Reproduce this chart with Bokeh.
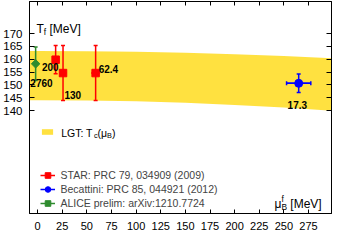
import math
from bokeh.plotting import figure
from bokeh.models import (ColumnDataSource, Whisker, TeeHead, FixedTicker, LinearAxis,
                          Legend, LegendItem, Label)
from bokeh.core.properties import value
from bokeh.embed import file_html
from bokeh.resources import INLINE

# ---------------- data ----------------
x_ticks = [0, 25, 50, 75, 100, 125, 150, 175, 200, 225, 250, 275]
y_ticks = [140, 145, 150, 155, 160, 165, 170]

band_mu = [-8, 0, 50, 100, 150, 200, 250, 300]
band_upper = [163.2, 163.2, 163.1, 162.9, 162.5, 161.9, 161.2, 160.3]
band_lower = [144.0, 144.0, 143.9, 143.6, 143.0, 142.2, 141.2, 139.9]

star_mu = [18.3, 25.8, 58.9]
star_T = [159.8, 154.6, 154.6]
star_Terr = [5.5, 10.7, 10.7]
star_muerr = [3.5, 3.5, 4.5]
star_labels = ["200", "130", "62.4"]

bec_mu = [265.0]
bec_T = [150.6]
bec_Terr = [3.6]
bec_muerr = [12.3]
bec_labels = ["17.3"]

alice_mu = [-2.0]
alice_T = [158.2]
alice_Terr = [6.5]
alice_muerr = [0.0]
alice_labels = ["2760"]

# label offsets in screen pixels (dx right, dy down) from each point
star_label_off = [(-13.7, 6.8), (1.4, 21.5), (3.0, -4.2)]
bec_label_off = [(-11.1, 21.2)]
alice_label_off = [(-5.3, 19.4)]

FONT = "Liberation Sans"

p = figure(width=335, height=232, x_range=(-8.23, 298.3), y_range=(99.9, 182.47),
           output_backend="svg", toolbar_location=None,
           min_border_left=22, min_border_right=4, min_border_top=1, min_border_bottom=19)
p.xgrid.visible = False
p.ygrid.visible = False
p.outline_line_color = "black"
p.background_fill_color = "white"
p.border_fill_color = "white"

# axes
for ax in p.xaxis:
    ax.ticker = FixedTicker(ticks=x_ticks)
    ax.major_tick_in = 4
    ax.major_tick_out = 0
    ax.minor_tick_in = 0
    ax.minor_tick_out = 0
    ax.major_label_text_font = FONT
    ax.major_label_text_font_size = "11px"
    ax.major_label_text_color = "black"
    ax.major_label_standoff = 8
    ax.axis_line_color = "black"
for ax in p.yaxis:
    ax.ticker = FixedTicker(ticks=y_ticks)
    ax.major_tick_in = 5
    ax.major_tick_out = 0
    ax.minor_tick_in = 0
    ax.minor_tick_out = 0
    ax.major_label_text_font = FONT
    ax.major_label_text_font_size = "11.5px"
    ax.major_label_text_color = "black"
    ax.major_label_standoff = 7
    ax.axis_line_color = "black"

top = LinearAxis(ticker=FixedTicker(ticks=x_ticks), major_tick_in=4, major_tick_out=0,
                 minor_tick_in=0, minor_tick_out=0, major_label_text_font_size="0px",
                 major_label_text_color=None, major_label_standoff=0, axis_line_color="black")
right = LinearAxis(ticker=FixedTicker(ticks=y_ticks), major_tick_in=5, major_tick_out=0,
                   minor_tick_in=0, minor_tick_out=0, major_label_text_font_size="0px",
                   major_label_text_color=None, major_label_standoff=0, axis_line_color="black")
p.add_layout(top, "above")
p.add_layout(right, "right")

# LGT band
band = p.varea(x=band_mu, y1=band_lower, y2=band_upper, fill_color="#FFD700", fill_alpha=0.75)
band.level = "underlay"


def series(mu, T, Terr, muerr, color, marker, size, angle=0.0):
    src = ColumnDataSource(dict(
        x=mu, y=T,
        ylo=[t - e for t, e in zip(T, Terr)], yhi=[t + e for t, e in zip(T, Terr)],
        xlo=[m - e for m, e in zip(mu, muerr)], xhi=[m + e for m, e in zip(mu, muerr)]))
    wv = Whisker(base="x", lower="ylo", upper="yhi", source=src, dimension="height",
                 line_color=color, line_width=1.5,
                 lower_head=TeeHead(size=4, line_color=color, line_width=1.5),
                 upper_head=TeeHead(size=4, line_color=color, line_width=1.5))
    wv.level = "underlay"
    p.add_layout(wv)
    seg = p.segment(x0="xlo", x1="xhi", y0="y", y1="y", source=src, line_color=color, line_width=1.5)
    sc = p.scatter(x="x", y="y", source=src, marker=marker, size=size, angle=angle,
                   fill_color=color, line_color=color)
    return [seg, sc]


star_r = series(star_mu, star_T, star_Terr, star_muerr, "#FF0000", "square", 7.5)
bec_r = series(bec_mu, bec_T, bec_Terr, bec_muerr, "#0000FF", "circle", 8)
alice_r = series(alice_mu, alice_T, alice_Terr, alice_muerr, "#2E8B2E", "square", 6, math.pi / 4)

# Blue horizontal caps
bsrc = ColumnDataSource(dict(y=bec_T, xlo=[m - e for m, e in zip(bec_mu, bec_muerr)],
                             xhi=[m + e for m, e in zip(bec_mu, bec_muerr)]))
wh = Whisker(base="y", lower="xlo", upper="xhi", source=bsrc, dimension="width",
             line_color="#0000FF", line_width=1.5,
             lower_head=TeeHead(size=4, line_color="#0000FF", line_width=1.5),
             upper_head=TeeHead(size=4, line_color="#0000FF", line_width=1.5))
p.add_layout(wh)

# point labels
lab_x = star_mu + bec_mu + alice_mu
lab_y = star_T + bec_T + alice_T
lab_t = star_labels + bec_labels + alice_labels
offs = star_label_off + bec_label_off + alice_label_off
lsrc = ColumnDataSource(dict(x=lab_x, y=lab_y, text=lab_t,
                             dx=[o[0] for o in offs], dy=[o[1] for o in offs]))
p.text(x="x", y="y", text="text", source=lsrc, x_offset="dx", y_offset="dy",
       text_font_size="10px", text_font_style="bold", text_color="black",
       text_baseline="alphabetic", text_align="left", text_font=value(FONT))

# legends
lgt_leg = Legend(items=[LegendItem(label="", renderers=[band])],
                 location=(10.7, 78), padding=0, margin=0, spacing=0,
                 glyph_width=14, glyph_height=7, label_height=7, label_standoff=0,
                 label_text_font_size="1px", label_text_color=None,
                 border_line_color=None, background_fill_alpha=0)
data_leg = Legend(items=[LegendItem(label="STAR: PRC 79, 034909 (2009)", renderers=star_r),
                         LegendItem(label="Becattini: PRC 85, 044921 (2012)", renderers=bec_r),
                         LegendItem(label="ALICE prelim: arXiv:1210.7724", renderers=alice_r)],
                  location=(10.5, 3.3), padding=0, margin=0, spacing=0,
                  glyph_width=15, glyph_height=14, label_height=14, label_standoff=6,
                  label_text_font=FONT, label_text_font_size="10.5px",
                  border_line_color=None, background_fill_alpha=0)
p.add_layout(lgt_leg)
p.add_layout(data_leg)

# rich text with sub/superscripts (screen units relative to frame bottom-left)
WID = {"L": 556, "G": 778, "T": 611, ":": 278, " ": 278, "c": 500, "(": 333, ")": 333,
       "μ": 576, "B": 667, "f": 278, "[": 278, "]": 278, "M": 833, "e": 556, "V": 667}


def rich(segs, sx, sy, size):
    x = sx
    for text, kind in segs:
        fs = size if kind == "n" else size * 0.7
        dy = 0 if kind == "n" else (-0.25 * size if kind == "sub" else 0.45 * size)
        lead = len(text) - len(text.lstrip(" "))
        x += lead * WID[" "] * fs / 1000.0
        body = text.lstrip(" ")
        p.add_layout(Label(x=x, y=sy + dy, x_units="screen", y_units="screen", text=body,
                           text_font=FONT, text_font_size=f"{fs:.1f}px", text_color="black",
                           text_baseline="alphabetic", text_align="left"))
        if kind != "sup":
            x += sum(WID.get(ch, 556) for ch in body) * fs / 1000.0


rich([("LGT: T", "n"), ("c", "sub"), ("(μ", "n"), ("B", "sub"), (")", "n")], 31.7, 213 - 132, 10.5)
rich([("T", "n"), ("f", "sub"), (" [MeV]", "n")], 7.0, 213 - 28, 12)
rich([("μ", "n"), ("f", "sup"), ("B", "sub"), (" [MeV]", "n")], 245.0, 213 - 203.5, 12)

open("out.html", "w").write(file_html(p, INLINE))
